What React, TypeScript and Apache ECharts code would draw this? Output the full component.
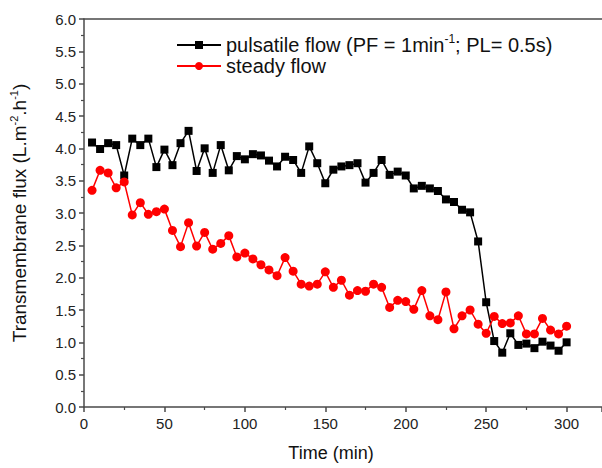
import React, { useEffect, useRef } from "react";
import * as echarts from "echarts";

const time: number[] = [
  5, 10, 15, 20, 25, 30, 35, 40, 45, 50, 55, 60, 65, 70, 75, 80, 85, 90, 95, 100,
  105, 110, 115, 120, 125, 130, 135, 140, 145, 150, 155, 160, 165, 170, 175, 180, 185, 190, 195, 200,
  205, 210, 215, 220, 225, 230, 235, 240, 245, 250, 255, 260, 265, 270, 275, 280, 285, 290, 295, 300,
];

const pulsatile: number[] = [
  4.09, 3.99, 4.08, 4.05, 3.58, 4.15, 4.05, 4.15, 3.71, 3.98, 3.74, 4.08, 4.27, 3.65, 4.0, 3.62, 4.05, 3.66, 3.88, 3.83,
  3.91, 3.89, 3.81, 3.72, 3.87, 3.82, 3.62, 4.03, 3.77, 3.46, 3.67, 3.72, 3.74, 3.77, 3.47, 3.62, 3.82, 3.59, 3.64, 3.58,
  3.38, 3.42, 3.38, 3.34, 3.21, 3.17, 3.05, 3.01, 2.56, 1.62, 1.02, 0.84, 1.14, 0.96, 0.98, 0.91, 1.01, 0.95, 0.87, 1.0,
];

const steady: number[] = [
  3.35, 3.66, 3.62, 3.39, 3.48, 2.97, 3.16, 2.98, 3.02, 3.06, 2.73, 2.48, 2.85, 2.49, 2.7, 2.44, 2.53, 2.65, 2.32, 2.38,
  2.29, 2.2, 2.12, 2.03, 2.31, 2.1, 1.9, 1.87, 1.9, 2.09, 1.85, 1.96, 1.73, 1.8, 1.79, 1.9, 1.85, 1.54, 1.65, 1.63,
  1.51, 1.8, 1.41, 1.35, 1.78, 1.21, 1.41, 1.5, 1.28, 1.14, 1.4, 1.29, 1.3, 1.41, 1.13, 1.13, 1.37, 1.19, 1.13, 1.25,
];

const seriesNames = ["pulsatile flow", "steady flow"];

const FONT = "'Liberation Sans', Arial, sans-serif";

export default function App() {
  const ref = useRef<HTMLDivElement>(null);
  useEffect(() => {
    if (!ref.current) return;
    const chart = echarts.init(ref.current, undefined, { renderer: "svg" });
    const axisColor = "#4a4a4a";
    chart.setOption({
      animation: false,
      backgroundColor: "#ffffff",
      textStyle: { fontFamily: FONT },
      grid: {
        left: 82,
        top: 19,
        right: 0,
        height: 388,
        show: false,
        containLabel: false,
      },
      legend: {
        orient: "vertical",
        left: 171,
        top: 28,
        itemGap: 1,
        itemWidth: 44,
        itemHeight: 10,
        data: seriesNames,
        formatter: (name: string) =>
          name === "pulsatile flow"
            ? "{a|pulsatile flow (PF = 1min}{s|-1}{a|; PL= 0.5s)}"
            : "{a|steady flow}",
        textStyle: {
          fontFamily: FONT,
          color: "#111",
          rich: {
            a: { fontSize: 20, fontFamily: FONT, color: "#111", lineHeight: 24 },
            s: { fontSize: 12, fontFamily: FONT, color: "#111", verticalAlign: "top", lineHeight: 14 },
          },
        },
      },
      xAxis: [
        {
          type: "value",
          min: 0,
          max: 322,
          interval: 50,
          name: "Time (min)",
          nameLocation: "middle",
          nameGap: 37,
          nameTextStyle: { fontSize: 18, color: "#111", fontFamily: FONT, padding: [0, 24, 0, 0] },
          axisLine: { show: true, lineStyle: { color: axisColor, width: 1.5 } },
          axisTick: { show: true, inside: false, length: 5, lineStyle: { color: axisColor, width: 1.5 } },
          minorTick: { show: true, splitNumber: 2, length: 3, lineStyle: { color: axisColor, width: 1.2 } },
          axisLabel: { fontSize: 15, color: "#222", margin: 9, fontFamily: FONT, showMaxLabel: false },
          splitLine: { show: false },
        },
        {
          type: "value",
          position: "top",
          min: 0,
          max: 322,
          axisLine: { show: true, onZero: false, lineStyle: { color: axisColor, width: 1.5 } },
          axisTick: { show: false },
          axisLabel: { show: false },
          splitLine: { show: false },
        },
      ],
      yAxis: {
        type: "value",
        min: 0,
        max: 6,
        interval: 0.5,
        name: "{a|Transmembrane flux (L.m}{s|-2}{a|.h}{s|-1}{a|)}",
        nameLocation: "middle",
        nameGap: 54,
        nameRotate: 90,
        nameTextStyle: {
          fontFamily: FONT,
          rich: {
            a: { fontSize: 19, fontFamily: FONT, color: "#111", lineHeight: 22 },
            s: { fontSize: 11, fontFamily: FONT, color: "#111", verticalAlign: "top", lineHeight: 13 },
          },
        },
        axisLine: { show: true, lineStyle: { color: axisColor, width: 1.5 } },
        axisTick: { show: true, inside: false, length: 5, lineStyle: { color: axisColor, width: 1.5 } },
        minorTick: { show: true, splitNumber: 2, length: 3, lineStyle: { color: axisColor, width: 1.2 } },
        axisLabel: {
          fontSize: 15,
          color: "#222",
          margin: 8,
          fontFamily: FONT,
          formatter: (v: number) => v.toFixed(1),
        },
        splitLine: { show: false },
      },
      series: [
        {
          name: seriesNames[0],
          type: "line",
          xAxisIndex: 0,
          data: time.map((t, i) => [t, pulsatile[i]]),
          symbol: "rect",
          symbolSize: 8,
          itemStyle: { color: "#000000" },
          lineStyle: { color: "#000000", width: 1.5 },
        },
        {
          name: seriesNames[1],
          type: "line",
          xAxisIndex: 0,
          data: time.map((t, i) => [t, steady[i]]),
          symbol: "circle",
          symbolSize: 9,
          itemStyle: { color: "#ff0000" },
          lineStyle: { color: "#ff0000", width: 1.5 },
        },
      ],
    });
    return () => chart.dispose();
  }, []);
  return <div ref={ref} style={{ width: 602, height: 468, position: "absolute", left: 0, top: 0 }} />;
}
